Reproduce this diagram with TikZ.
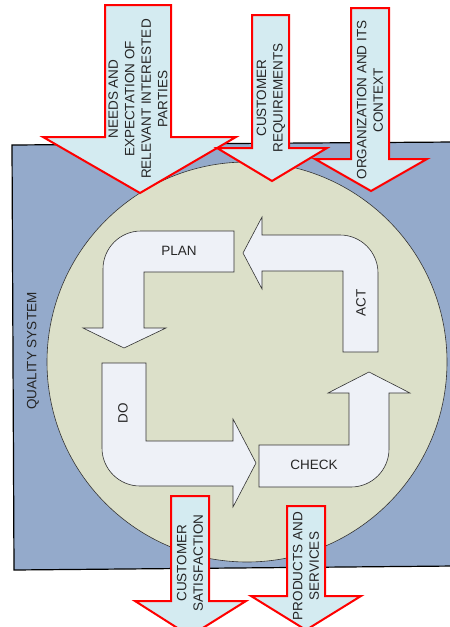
\documentclass[tikz,border=0pt]{standalone}
\usepackage{fontspec}
\setmainfont{Liberation Sans}
\tikzset{
  qsys/.style={fill=qblue,draw=black,line width=1.2pt},
  pdcaarrow/.style={fill=arrowfill,draw=black!80,line width=0.6pt},
  inarrow/.style={fill=redfill,draw=red,line width=2pt,line join=miter},
  lbl/.style={font=\fontsize{13.5}{16.5}\selectfont,text=black!85,align=center,inner sep=0pt}
}
\definecolor{qblue}{HTML}{94AACB}
\definecolor{circfill}{HTML}{DCE0C9}
\definecolor{arrowfill}{HTML}{EEF1F7}
\definecolor{redfill}{HTML}{D4EBF1}
\begin{document}
\begin{tikzpicture}[x=1pt,y=-1pt]
 \useasboundingbox (0,0) rectangle (450,627);
 \clip (0,0) rectangle (450,627);
 % quality system frame
 \draw[qsys](12,145)--(455,142)--(455,566)--(14,570)--cycle;
 \node[circle,fill=circfill,draw=black!80,line width=0.6pt,minimum size=400,inner sep=0pt] (pdca) at (247,362) {};
 % plan do check act
 \draw[pdcaarrow](234,231)--(141,231) arc[start angle=270,end angle=180,radius=38]--(103,328)--(83,328)--(124,348)--(166,328)--(144,328)--(144,272)--(234,272)--cycle;
 \draw[pdcaarrow](243,253)--(262,217)--(262,235)--(340,235) arc[start angle=270,end angle=360,radius=38]--(378,352)--(343,352)--(343,271)--(262,271)--(262,289)--cycle;
 \draw[pdcaarrow](369,372)--(410,393)--(389,393)--(389,449) arc[start angle=0,end angle=90,radius=38]--(259,487)--(259,445)--(349,445)--(349,393)--(328,393)--cycle;
 \draw[pdcaarrow](102,363)--(102,448) arc[start angle=180,end angle=90,radius=38]--(233,486)--(233,507)--(256,463)--(233,419)--(233,441)--(146,441)--(146,363)--cycle;
 % inputs and outputs
 \draw[inarrow](105,5)--(171,5)--(171,137)--(236,137)--(140,193)--(43,137)--(105,137)--cycle;
 \draw[inarrow](252,15)--(289,15)--(289,148)--(327,148)--(272,181)--(217,148)--(252,148)--cycle;
 \draw[inarrow](351,8)--(389,8)--(389,159)--(427,159)--(371,191)--(315,159)--(351,159)--cycle;
 \draw[inarrow](171,496)--(209,496)--(209,601)--(246,601)--(190,636)--(135,601)--(171,601)--cycle;
 \draw[inarrow](287,506)--(325,506)--(325,596)--(361,596)--(306,630)--(251,596)--(287,596)--cycle;
 % labels
 \node[lbl,rotate=90] (quality) at (33,351) {QUALITY SYSTEM};
 \node[lbl] (plan) at (179,251) {PLAN};
 \node[lbl,rotate=90] (act) at (361,303) {ACT};
 \node[lbl] (check) at (314,465) {CHECK};
 \node[lbl,rotate=90] (do) at (123,413) {DO};
 \node[lbl,rotate=90] (needs) at (138,99) {NEEDS AND\\EXPECTATION OF\\RELEVANT INTERESTED\\PARTIES};
 \node[lbl,rotate=90] (custreq) at (271,98) {CUSTOMER\\REQUIREMENTS};
 \node[lbl,rotate=90] (orgctx) at (370,100) {ORGANIZATION AND ITS\\CONTEXT};
 \node[lbl,rotate=90] (custsat) at (190,563) {CUSTOMER\\SATISFACTION};
 \node[lbl,rotate=90] (prodserv) at (306,566) {PRODUCTS AND\\SERVICES};
\end{tikzpicture}
\end{document}
